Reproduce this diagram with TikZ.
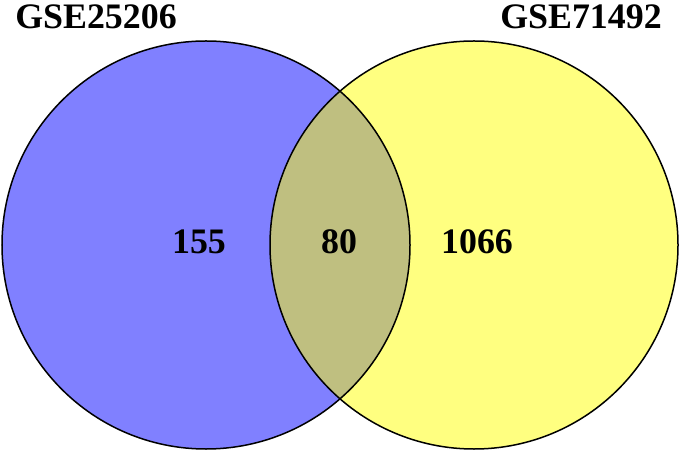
\documentclass[tikz,border=0pt]{standalone}
\usepackage{fontspec}
\setmainfont{Liberation Serif}
\definecolor{setA}{RGB}{128,128,255}
\definecolor{setB}{RGB}{255,255,128}
\definecolor{setAB}{RGB}{191,191,128}
\begin{document}
\begin{tikzpicture}[x=1bp,y=-1bp,
  outline/.style={draw=black,line width=1.5bp},
  title/.style={font=\fontsize{36}{40}\selectfont\bfseries,inner sep=0pt,anchor=base},
  count/.style={font=\fontsize{36}{40}\selectfont\bfseries,inner sep=0pt,anchor=base}]
\useasboundingbox (0,0) rectangle (680,453);
\fill[white] (0,0) rectangle (680,453);
\coordinate (cA) at (206,245);
\coordinate (cB) at (474,245);
\fill[setA] (cA) circle (204bp);
\fill[setB] (cB) circle (204bp);
\begin{scope}
  \clip (cA) circle (204bp);
  \fill[setAB] (cB) circle (204bp);
\end{scope}
\draw[outline] (cA) circle (204bp);
\draw[outline] (cB) circle (204bp);
\node[title] (tA) at (96,29) {GSE25206};
\node[title] (tB) at (581,29) {GSE71492};
\node[count] (nA) at (199,254) {155};
\node[count] (nAB) at (339,254) {80};
\node[count] (nB) at (477,254) {1066};
\end{tikzpicture}
\end{document}
